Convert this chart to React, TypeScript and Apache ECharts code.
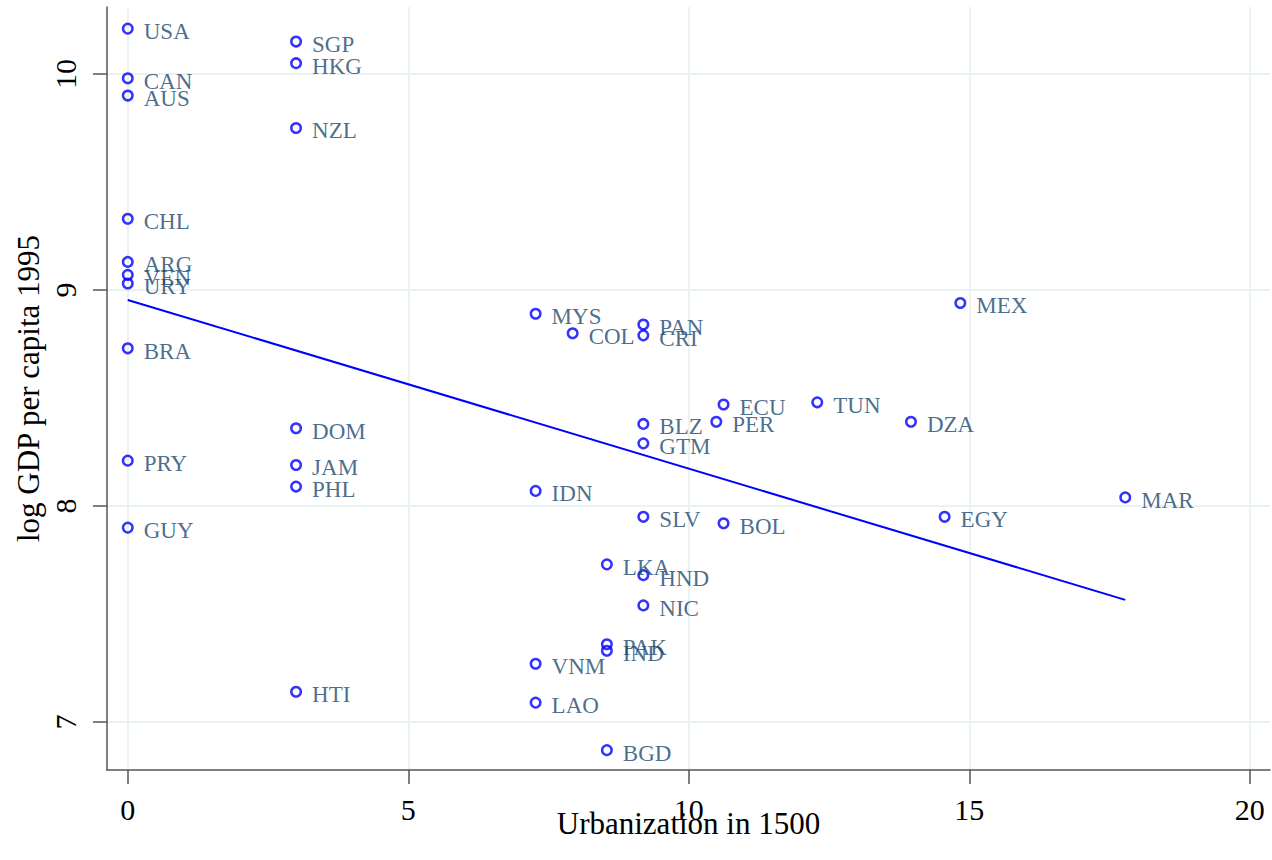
import React, { useEffect, useRef } from "react";
import * as echarts from "echarts";

const countries = ["USA","CAN","AUS","CHL","ARG","VEN","URY","BRA","PRY","GUY","SGP","HKG","NZL","DOM","JAM","PHL","HTI","MYS","IDN","VNM","LAO","COL","PAN","CRI","BLZ","GTM","SLV","HND","NIC","LKA","PAK","IND","BGD","ECU","PER","BOL","TUN","DZA","MEX","EGY","MAR"];
const urbanization1500 = [0,0,0,0,0,0,0,0,0,0,3,3,3,3,3,3,3,7.27,7.27,7.27,7.27,7.93,9.19,9.19,9.19,9.19,9.19,9.19,9.19,8.54,8.54,8.54,8.54,10.62,10.49,10.62,12.29,13.96,14.84,14.56,17.78];
const logGdp1995 = [10.21,9.98,9.90,9.33,9.13,9.07,9.03,8.73,8.21,7.90,10.15,10.05,9.75,8.36,8.19,8.09,7.14,8.89,8.07,7.27,7.09,8.80,8.84,8.79,8.38,8.29,7.95,7.68,7.54,7.73,7.36,7.33,6.87,8.47,8.39,7.92,8.48,8.39,8.94,7.95,8.04];
const fitIntercept = 8.954;
const fitSlope = -0.0781;
const xTicks = [0, 5, 10, 15, 20];
const yTicks = [7, 8, 9, 10];

const FONT = "'Liberation Serif', 'Times New Roman', serif";

export default function App() {
  const ref = useRef<HTMLDivElement>(null);
  useEffect(() => {
    if (!ref.current) return;
    const chart = echarts.init(ref.current, null, { renderer: "svg" });
    const points = countries.map((c, i) => [urbanization1500[i], logGdp1995[i], c]);
    const xMaxData = Math.max(...urbanization1500);
    const xMinData = Math.min(...urbanization1500);
    const fitLine = [
      [xMinData, fitIntercept + fitSlope * xMinData],
      [xMaxData, fitIntercept + fitSlope * xMaxData],
    ];
    const gridColor = "#eaf2f3";
    const axisColor = "#555555";
    chart.setOption({
      animation: false,
      backgroundColor: "#ffffff",
      grid: { left: 107, right: 2, top: 7, bottom: 90, containLabel: false, outerBoundsMode: "none" },
      xAxis: {
        type: "value",
        min: -0.37,
        max: 20.36,
        name: "Urbanization in 1500",
        nameLocation: "middle",
        nameGap: 38,
        nameMoveOverlap: false,
        nameTextStyle: { fontFamily: FONT, fontSize: 31, color: "#000" },
        axisLine: { show: true, onZero: false, lineStyle: { color: axisColor, width: 1.5 } },
        axisTick: { show: true, length: 14, customValues: xTicks, lineStyle: { color: axisColor, width: 1.5 } },
        axisLabel: { customValues: xTicks, margin: 24, fontFamily: FONT, fontSize: 30, color: "#000" },
        splitLine: { show: true, lineStyle: { color: gridColor, width: 2 } },
      },
      yAxis: {
        type: "value",
        min: 6.778,
        max: 10.31,
        name: "log GDP per capita 1995",
        nameLocation: "middle",
        nameGap: 63,
        nameMoveOverlap: false,
        nameTextStyle: { fontFamily: FONT, fontSize: 31, color: "#000" },
        axisLine: { show: true, onZero: false, lineStyle: { color: axisColor, width: 1.5 } },
        axisTick: { show: true, length: 14, customValues: yTicks, lineStyle: { color: axisColor, width: 1.5 } },
        axisLabel: { customValues: yTicks, rotate: 90, margin: 27, fontFamily: FONT, fontSize: 30, color: "#000" },
        splitLine: { show: true, lineStyle: { color: gridColor, width: 2 } },
      },
      series: [
        {
          type: "line",
          data: fitLine,
          showSymbol: false,
          symbol: "none",
          lineStyle: { color: "#0000ff", width: 2 },
          z: 2,
        },
        {
          type: "scatter",
          data: points,
          symbol: "circle",
          symbolSize: 9.5,
          itemStyle: { color: "rgba(255,255,255,0)", borderColor: "#0000ff", borderWidth: 2.5 },
          label: {
            show: true,
            position: "right",
            distance: 10,
            offset: [0, 3],
            formatter: (p: any) => p.data[2],
            fontFamily: FONT,
            fontSize: 23,
            color: "#1a476f",
          },
          z: 3,
        },
      ],
    });
    return () => chart.dispose();
  }, []);
  return (
    <div
      ref={ref}
      style={{ position: "fixed", left: 0, top: 0, width: 1272, height: 860, background: "#fff" }}
    />
  );
}
